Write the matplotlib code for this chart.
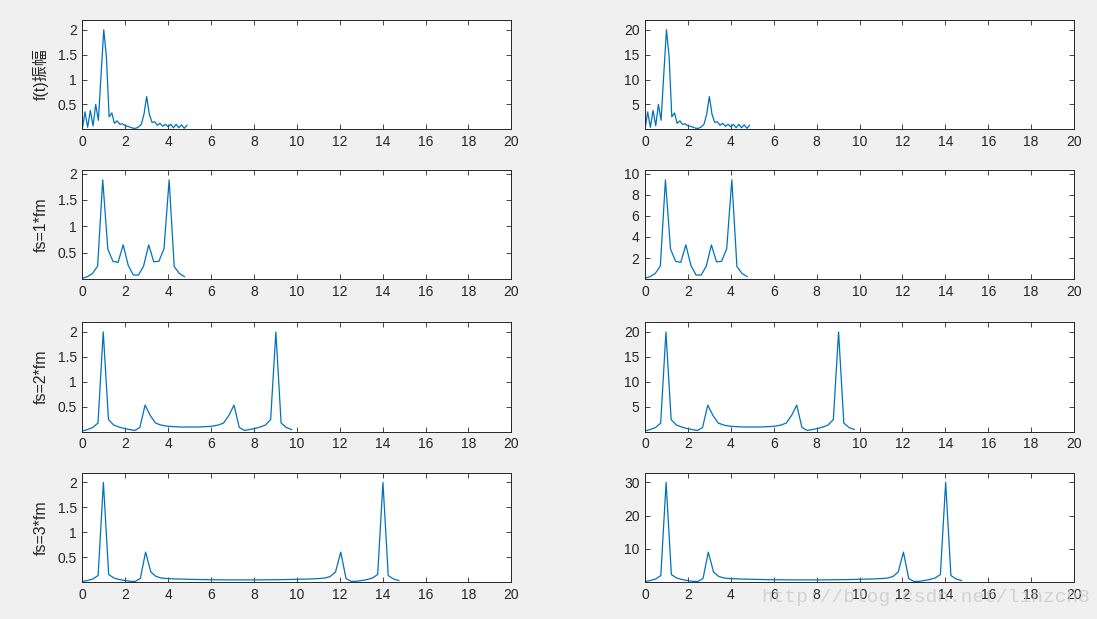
import matplotlib
matplotlib.use('Agg')
import matplotlib.pyplot as plt

plt.rcParams['font.family'] = ['Liberation Sans', 'Noto Sans CJK SC', 'DejaVu Sans']

# 原始信号频谱 f(t), 频率间隔 0.125
f0 = [i * 0.125 for i in range(40)]
a0 = [0.0, 0.35, 0.04, 0.38, 0.07, 0.50, 0.18, 1.10, 2.00, 1.45,
      0.25, 0.33, 0.12, 0.17, 0.10, 0.11, 0.07, 0.06, 0.04, 0.02,
      0.02, 0.05, 0.10, 0.30, 0.66, 0.30, 0.14, 0.15, 0.08, 0.12,
      0.06, 0.10, 0.05, 0.10, 0.03, 0.10, 0.03, 0.09, 0.02, 0.08]
b0 = [0.0, 3.5, 0.4, 3.8, 0.7, 5.0, 1.8, 11.0, 20.0, 14.5,
      2.5, 3.3, 1.2, 1.7, 1.0, 1.1, 0.7, 0.6, 0.4, 0.2,
      0.2, 0.5, 1.0, 3.0, 6.6, 3.0, 1.4, 1.5, 0.8, 1.2,
      0.6, 1.0, 0.5, 1.0, 0.3, 1.0, 0.3, 0.9, 0.2, 0.8]

# fs = 1*fm
f1 = [i * 5 / 21 for i in range(21)]
a1 = [0.02, 0.05, 0.11, 0.25, 1.88, 0.57, 0.34, 0.32, 0.65, 0.26, 0.08,
      0.08, 0.25, 0.65, 0.33, 0.34, 0.58, 1.88, 0.24, 0.11, 0.05]
b1 = [0.1, 0.25, 0.55, 1.25, 9.4, 2.85, 1.7, 1.6, 3.25, 1.3, 0.4,
      0.4, 1.25, 3.25, 1.65, 1.7, 2.9, 9.4, 1.2, 0.55, 0.25]

# fs = 2*fm
f2 = [i * 10 / 41 for i in range(41)]
a2 = [0.01, 0.04, 0.08, 0.17, 2.00, 0.24, 0.13, 0.09, 0.06, 0.04, 0.02,
      0.08, 0.53, 0.32, 0.17, 0.13, 0.11, 0.10, 0.095, 0.09, 0.09,
      0.09, 0.09, 0.095, 0.10, 0.11, 0.13, 0.17, 0.32, 0.53, 0.08,
      0.02, 0.04, 0.06, 0.09, 0.13, 0.24, 2.00, 0.17, 0.08, 0.04]
b2 = [0.1, 0.4, 0.8, 1.7, 20.0, 2.4, 1.3, 0.9, 0.6, 0.4, 0.2,
      0.8, 5.3, 3.2, 1.7, 1.3, 1.1, 1.0, 0.95, 0.9, 0.9,
      0.9, 0.9, 0.95, 1.0, 1.1, 1.3, 1.7, 3.2, 5.3, 0.8,
      0.2, 0.4, 0.6, 0.9, 1.3, 2.4, 20.0, 1.7, 0.8, 0.4]

# fs = 3*fm
f3 = [i * 15 / 61 for i in range(61)]
a3 = [0.01, 0.03, 0.06, 0.13, 2.00, 0.15, 0.08, 0.05, 0.03, 0.015, 0.01,
      0.07, 0.60, 0.20, 0.11, 0.08, 0.07, 0.065, 0.06, 0.058, 0.055,
      0.052, 0.05, 0.048, 0.046, 0.045, 0.044, 0.043, 0.042, 0.042, 0.042,
      0.042, 0.042, 0.042, 0.043, 0.044, 0.045, 0.046, 0.048, 0.05, 0.052,
      0.055, 0.058, 0.06, 0.065, 0.07, 0.08, 0.11, 0.20, 0.60, 0.07,
      0.01, 0.015, 0.03, 0.05, 0.08, 0.15, 2.00, 0.13, 0.06, 0.03]
b3 = [0.15, 0.45, 0.9, 1.95, 30.0, 2.25, 1.2, 0.75, 0.45, 0.22, 0.15,
      1.05, 9.0, 3.0, 1.65, 1.2, 1.05, 0.98, 0.9, 0.87, 0.83,
      0.78, 0.75, 0.72, 0.69, 0.68, 0.66, 0.65, 0.63, 0.63, 0.63,
      0.63, 0.63, 0.63, 0.65, 0.66, 0.68, 0.69, 0.72, 0.75, 0.78,
      0.83, 0.87, 0.9, 0.98, 1.05, 1.2, 1.65, 3.0, 9.0, 1.05,
      0.15, 0.22, 0.45, 0.75, 1.2, 2.25, 30.0, 1.95, 0.9, 0.45]

ylabels = ['f(t)振幅', 'fs=1*fm', 'fs=2*fm', 'fs=3*fm']
left_data = [(f0, a0), (f1, a1), (f2, a2), (f3, a3)]
right_data = [(f0, b0), (f1, b1), (f2, b2), (f3, b3)]
left_ylim = [2.2, 2.07, 2.2, 2.2]
right_ylim = [22, 10.35, 22, 33]
left_ticks = [[0.5, 1, 1.5, 2]] * 4
right_ticks = [[5, 10, 15, 20], [2, 4, 6, 8, 10], [5, 10, 15, 20], [10, 20, 30]]

W, H = 1097, 619
fig = plt.figure(figsize=(W / 100, H / 100), dpi=100, facecolor='#F0F0F0')

row_bottom = [129.3, 279.3, 431.5, 582.0]
ax_h = 109.5
col_left = [82.3, 645.0]
ax_w = 429.0
line_color = '#0072BD'
axis_color = '#262626'


def style_axis(ax, top, ticks):
    ax.set_xlim(0, 20)
    ax.set_ylim(0, top)
    ax.set_xticks(range(0, 21, 2))
    ax.set_yticks(ticks)
    ax.set_yticklabels([f'{t:g}' for t in ticks])
    ax.tick_params(direction='in', length=3.5, width=0.6, colors=axis_color,
                   labelsize=10, top=True, right=True, pad=4)
    for s in ax.spines.values():
        s.set_color(axis_color)
        s.set_linewidth(0.7)


for r in range(4):
    bottom = 1 - row_bottom[r] / H
    for c in range(2):
        ax = fig.add_axes([col_left[c] / W, bottom, ax_w / W, ax_h / H])
        if c == 0:
            x, y = left_data[r]
            ax.plot(x, y, color=line_color, lw=0.9)
            style_axis(ax, left_ylim[r], left_ticks[r])
            ax.set_ylabel(ylabels[r], fontsize=11.5, color=axis_color, labelpad=6)
        else:
            x, y = right_data[r]
            ax.plot(x, y, color=line_color, lw=0.9)
            style_axis(ax, right_ylim[r], right_ticks[r])

# 水印
fig.text(1090 / W, 1 - 598 / H, 'http://blog.csdn.net/linzch8', ha='right', va='center',
         fontsize=14, family='Liberation Mono', color='#C8C8C8', alpha=0.75)

fig.savefig('out.png', dpi=100, facecolor=fig.get_facecolor())
